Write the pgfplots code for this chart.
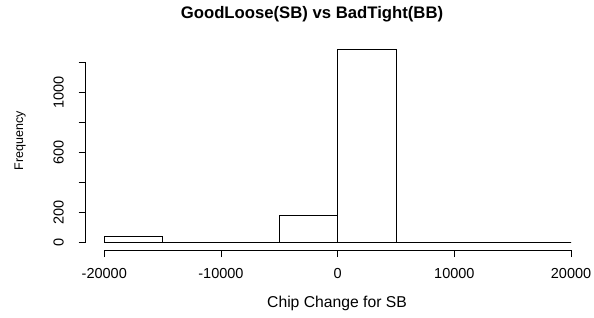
\documentclass[border=0pt]{standalone}
\usepackage{fontspec}
\setmainfont{Liberation Sans}
\usepackage{pgfplots}
\pgfplotsset{compat=1.18}
\begin{document}
\begin{tikzpicture}[x=1bp,y=1bp]
\useasboundingbox (0,0) rectangle (594,317);
\begin{axis}[
  at={(85.6bp,67bp)}, anchor=south west,
  scale only axis, width=504.1bp, height=208.5bp,
  xmin=-21600, xmax=21600, ymin=-51.5, ymax=1338.5,
  axis x line*=bottom, axis y line*=left,
  axis line style={draw=none},
  clip=false,
  scaled x ticks=false, scaled y ticks=false,
  tick align=outside,
  major tick length=7bp,
  every tick/.style={black, line width=0.8bp},
  xtick={-20000,-10000,0,10000,20000},
  xticklabels={-20000,-10000,0,10000,20000},
  ytick={0,200,400,600,800,1000,1200},
  yticklabels={0,200,,600,,1000,},
  xticklabel style={anchor=north, inner sep=0pt, font=\fontsize{14.5bp}{17bp}\selectfont},
  yticklabel style={rotate=90, anchor=south, inner sep=0pt, font=\fontsize{14.5bp}{17bp}\selectfont},
  xticklabel shift=10.7bp,
  yticklabel shift=14.6bp,
]
\addplot[ybar interval, draw=black, fill=none, line width=0.8bp] coordinates {
  (-20000,37) (-15000,0) (-10000,0) (-5000,177) (0,1287) (5000,0) (10000,0) (15000,0) (20000,0)};
\draw[line width=0.8bp] (axis cs:-20000,-51.5) -- (axis cs:20000,-51.5);
\draw[line width=0.8bp] (axis cs:-21600,0) -- (axis cs:-21600,1200);
\end{axis}
\node[anchor=base, font=\bfseries\fontsize{16.7bp}{20bp}\selectfont] at (312,299) {GoodLoose(SB) vs BadTight(BB)};
\node[anchor=base, font=\fontsize{15.7bp}{18bp}\selectfont] at (337,10) {Chip Change for SB};
\node[anchor=base, rotate=90, font=\fontsize{12.5bp}{15bp}\selectfont] at (23,176) {Frequency};
\end{tikzpicture}
\end{document}
